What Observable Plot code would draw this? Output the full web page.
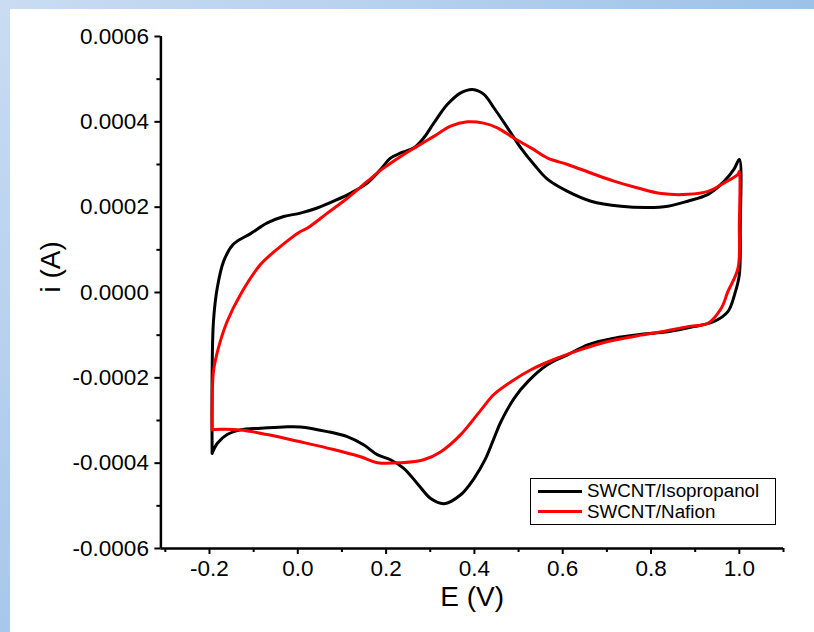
<!DOCTYPE html>
<html><head><meta charset="utf-8">
<script src="https://cdn.jsdelivr.net/npm/d3@7"></script>
<script src="https://cdn.jsdelivr.net/npm/@observablehq/plot@0.6"></script>
<style>
html,body{margin:0;padding:0;background:#fff;}
#page{position:relative;width:814px;height:632px;background:linear-gradient(to right,#c9dcf2 0%,#b6d0ee 50%,#9dc2e8 100%);overflow:hidden;font-family:"Liberation Sans",Arial,sans-serif;}
#lstrip{position:absolute;left:0;top:0;width:10px;height:632px;background:linear-gradient(to bottom,#c9dcf2,#a8c7ea);}
#chart{position:absolute;left:10px;top:9px;width:804px;height:623px;background:#fff;}
#legend{position:absolute;left:530px;top:478px;width:246px;height:47px;border:1px solid #000;background:#fff;box-sizing:border-box;padding-top:2px;}
.row{display:flex;align-items:center;height:20.5px;}
.sw{width:44px;height:3px;margin-left:7px;margin-right:5px;}
.lt{font-size:18.8px;color:#000;white-space:nowrap;}
</style>
</head><body>
<div id="page"><div id="lstrip"></div><div id="chart"></div>
<div id="legend">
<div class="row"><div class="sw" style="background:#000"></div><div class="lt" id="l0"></div></div>
<div class="row"><div class="sw" style="background:#ff0000"></div><div class="lt" id="l1"></div></div>
</div></div>
<script>
const seriesNames = ["SWCNT/Isopropanol", "SWCNT/Nafion"];
const seriesColors = ["#000000", "#ff0000"];

// SWCNT/Isopropanol: forward (anodic) then reverse (cathodic) scan
const isoE = [-0.194,-0.194,-0.191,-0.1825,-0.168,-0.146,-0.107,-0.069,-0.032,0.006,0.044,0.081,0.120,0.158,0.188,0.210,0.233,0.263,0.285,0.308,0.339,0.369,0.396,0.421,0.444,0.475,0.505,0.535,0.566,0.611,0.664,0.732,0.793,0.838,0.883,0.929,0.966,0.988,1.0,
  1.002,1.0,0.990,0.974,0.943,0.897,0.838,0.778,0.717,0.658,0.611,0.566,0.521,0.490,0.460,0.445,0.425,0.399,0.369,0.331,0.301,0.271,0.240,0.210,0.180,0.149,0.112,0.067,0.006,-0.032,-0.084,-0.130,-0.160,-0.1825,-0.194];
const isoI = [-0.000377,-0.000192,-0.000068,0.000010,0.000073,0.000113,0.000138,0.000163,0.000178,0.000186,0.000198,0.000214,0.000233,0.000257,0.000289,0.000315,0.000327,0.000339,0.000362,0.000397,0.000441,0.000468,0.000476,0.000465,0.000433,0.000386,0.000339,0.000300,0.000265,0.000237,0.000214,0.000202,0.000199,0.000202,0.000214,0.000230,0.000261,0.000289,0.000312,
  0.000151,0.000042,-0.000002,-0.000045,-0.000068,-0.000080,-0.000092,-0.000098,-0.000107,-0.000122,-0.000146,-0.000169,-0.000209,-0.000248,-0.000303,-0.000340,-0.000390,-0.000436,-0.000474,-0.000495,-0.000483,-0.000448,-0.000412,-0.000392,-0.000380,-0.000357,-0.000338,-0.000326,-0.000315,-0.000315,-0.000318,-0.000322,-0.000333,-0.000354,-0.000377];

// SWCNT/Nafion
const nafE = [-0.194,-0.194,-0.191,-0.180,-0.160,-0.130,-0.084,-0.039,0.006,0.022,0.067,0.112,0.158,0.195,0.233,0.271,0.308,0.346,0.384,0.421,0.452,0.489,0.528,0.566,0.611,0.664,0.716,0.770,0.823,0.883,0.929,0.966,0.997,1.0,
  1.0,0.997,0.974,0.959,0.929,0.883,0.823,0.761,0.702,0.641,0.580,0.528,0.483,0.444,0.415,0.369,0.324,0.285,0.233,0.180,0.142,0.081,0.006,-0.069,-0.130,-0.191,-0.194];
const nafI = [-0.000322,-0.000272,-0.000185,-0.000131,-0.000068,-0.000005,0.000066,0.000108,0.000143,0.000151,0.000186,0.000221,0.000261,0.000292,0.000319,0.000343,0.000366,0.000390,0.000400,0.000397,0.000386,0.000362,0.000339,0.000315,0.000300,0.000280,0.000261,0.000245,0.000232,0.000230,0.000237,0.000257,0.000277,0.000284,
  0.000160,0.000057,0.000002,-0.000037,-0.000072,-0.000080,-0.000092,-0.000103,-0.000115,-0.000134,-0.000157,-0.000181,-0.000209,-0.000239,-0.000275,-0.000333,-0.000373,-0.000392,-0.000399,-0.000399,-0.000385,-0.000368,-0.000350,-0.000333,-0.000322,-0.000321,-0.000322];

const xMajor = [-0.2, 0, 0.2, 0.4, 0.6, 0.8, 1.0];
const xTickLabels = ["-0.2", "0.0", "0.2", "0.4", "0.6", "0.8", "1.0"];
const xMinor = [-0.3, -0.1, 0.1, 0.3, 0.5, 0.7, 0.9, 1.1];
const yMajor = [-0.0006, -0.0004, -0.0002, 0, 0.0002, 0.0004, 0.0006];
const yTickLabels = ["-0.0006", "-0.0004", "-0.0002", "0.0000", "0.0002", "0.0004", "0.0006"];
const yMinor = [-0.0005, -0.0003, -0.0001, 0.0001, 0.0003, 0.0005];
const xTitle = "E (V)";
const yTitle = "i (A)";

const rows = [
  ...isoE.map((e, i) => ({E: e, I: isoI[i], s: seriesNames[0], k: i})),
  ...nafE.map((e, i) => ({E: e, I: nafI[i], s: seriesNames[1], k: i}))
];
const xLab = new Map(xMajor.map((v, i) => [v, xTickLabels[i]]));
const yLab = new Map(yMajor.map((v, i) => [v, yTickLabels[i]]));

const chart = Plot.plot({
  width: 804, height: 623,
  marginLeft: 150.4, marginRight: 31, marginTop: 27, marginBottom: 84,
  style: {fontFamily: "'Liberation Sans', Arial, sans-serif", fontSize: "22.5px", color: "#000", background: "#fff"},
  x: {domain: [-0.31, 1.1]},
  y: {domain: [-0.0006, 0.0006]},
  color: {domain: seriesNames, range: seriesColors},
  marks: [
    Plot.axisX(xMajor, {tickSize: 6, tickPadding: 6, strokeWidth: 2, tickFormat: d => xLab.get(d), label: null}),
    Plot.axisX(xMinor, {tickSize: 4, strokeWidth: 2, tickFormat: () => "", label: null}),
    Plot.axisY(yMajor, {tickSize: 6, tickPadding: 6, strokeWidth: 2, tickFormat: d => yLab.get(d), label: null}),
    Plot.axisY(yMinor, {tickSize: 4, strokeWidth: 2, tickFormat: () => "", label: null}),
    Plot.ruleX([-0.31], {strokeWidth: 2.5, stroke: "#000"}),
    Plot.ruleY([-0.0006], {strokeWidth: 2.5, stroke: "#000"}),
    Plot.line(rows, {x: "E", y: "I", z: "s", stroke: "s", strokeWidth: 3, curve: "catmull-rom"}),
    Plot.text([xTitle], {frameAnchor: "bottom", dy: 57, text: d => d, fontSize: 28}),
    Plot.text([yTitle], {frameAnchor: "left", dx: -110, rotate: -90, text: d => d, fontSize: 28})
  ]
});
document.getElementById("chart").appendChild(chart);
document.getElementById("l0").textContent = seriesNames[0];
document.getElementById("l1").textContent = seriesNames[1];
</script>
</body></html>
